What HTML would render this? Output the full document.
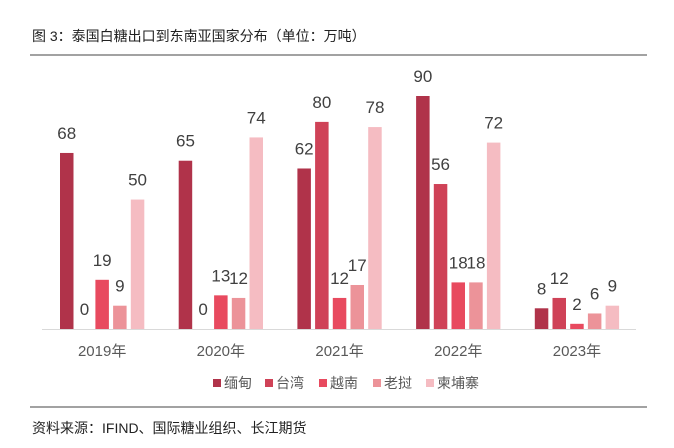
<!DOCTYPE html>
<html><head><meta charset="utf-8"><style>
body{margin:0;background:#fff;width:674px;height:443px;overflow:hidden;font-family:"Liberation Sans","Noto Sans CJK SC",sans-serif}
</style></head><body>
<svg width="674" height="443" xmlns="http://www.w3.org/2000/svg">
<text x="32" y="41" font-size="14" fill="#222">图 3：泰国白糖出口到东南亚国家分布（单位：万吨）</text>
<line x1="30" y1="55" x2="647" y2="55" stroke="#444" stroke-width="1"/>
<g id="bars"></g>
<line x1="42" y1="329.5" x2="636" y2="329.5" stroke="#d9d9d9" stroke-width="1"/>
<g id="legend"></g>
<line x1="30" y1="407" x2="647" y2="407" stroke="#444" stroke-width="1"/>
<text x="32" y="433" font-size="14" fill="#222">资料来源：IFIND、国际糖业组织、长江期货</text>
</svg>
<script>
const categories=["2019年","2020年","2021年","2022年","2023年"];
const seriesNames=["缅甸","台湾","越南","老挝","柬埔寨"];
const colors=["#b0334a","#cf4257","#e84a5f","#ec9399","#f5bcc2"];
const s0=[68,65,62,90,8];
const s1=[0,0,80,56,12];
const s2=[19,13,12,18,2];
const s3=[9,12,17,18,6];
const s4=[50,74,78,72,9];
const series=[s0,s1,s2,s3,s4];
const NS="http://www.w3.org/2000/svg";
const base=329, scale=233/90;
const y=v=>base-v*scale;
const groupX=i=>60+i*118.7;
const barW=13.5, step=17.7;
const g=document.getElementById('bars');
categories.forEach((c,i)=>{
  series.forEach((s,k)=>{
    const x=groupX(i)+k*step, v=s[i];
    const r=document.createElementNS(NS,'rect');
    r.setAttribute('x',x);r.setAttribute('y',y(v));r.setAttribute('width',barW);r.setAttribute('height',v*scale);
    r.setAttribute('fill',colors[k]);
    
    
    g.appendChild(r);
    const t=document.createElementNS(NS,'text');
    t.setAttribute('x',x+barW/2);t.setAttribute('y',y(v)-14);t.setAttribute('text-anchor','middle');
    t.setAttribute('font-size','17');t.setAttribute('fill','#404040');t.textContent=v;
    
    
    g.appendChild(t);
  });
  const t=document.createElementNS(NS,'text');
  t.setAttribute('x',groupX(i)+2*step+barW/2);t.setAttribute('y',356);t.setAttribute('text-anchor','middle');
  t.setAttribute('font-size','15');t.setAttribute('fill','#595959');t.textContent=c;
  
  
  g.appendChild(t);
});
const lg=document.getElementById('legend');
const lx=[213,265,319,373,426];
seriesNames.forEach((n,k)=>{
  const r=document.createElementNS(NS,'rect');
  r.setAttribute('x',lx[k]);r.setAttribute('y',379);r.setAttribute('width',8);r.setAttribute('height',8);r.setAttribute('fill',colors[k]);
  
  
  lg.appendChild(r);
  const t=document.createElementNS(NS,'text');
  t.setAttribute('x',lx[k]+11);t.setAttribute('y',388);t.setAttribute('font-size','14');t.setAttribute('fill','#595959');t.textContent=n;
  
  
  lg.appendChild(t);
});
</script>
</body></html>
